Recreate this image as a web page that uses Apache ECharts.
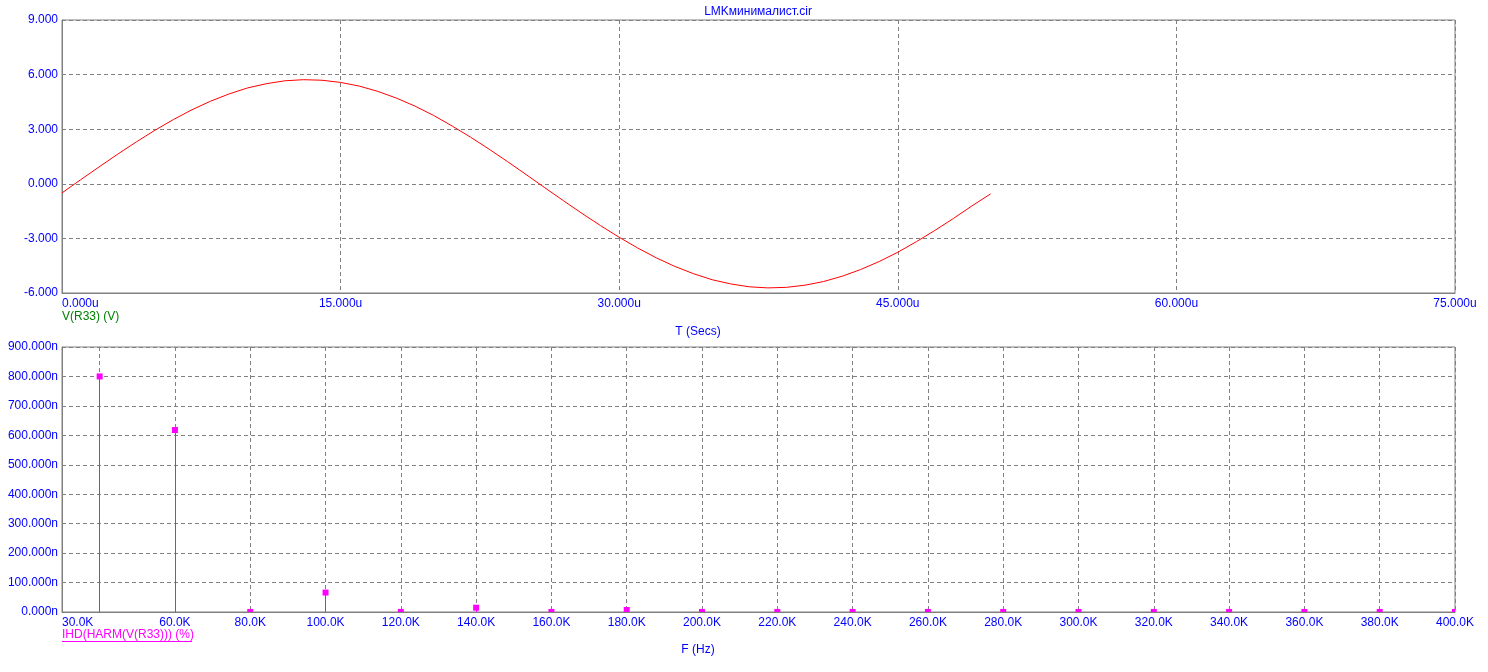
<!DOCTYPE html>
<html><head><meta charset="utf-8">
<script src="https://cdn.jsdelivr.net/npm/echarts@6/dist/echarts.min.js"></script>
<style>html,body{margin:0;padding:0;background:#fff}#c{width:1488px;height:672px}</style>
</head><body><div id="c"></div>
<script>
// ---- Data ----
const timeUs = [0,1,2,3,4,5,6,7,8,9,10,11,12,13,14,15,16,17,18,19,20,21,22,23,24,25,26,27,28,29,30,31,32,33,34,35,36,37,38,39,40,41,42,43,44,45,46,47,48,49,50];
const voltage = [-0.50,0.22,0.93,1.63,2.30,2.94,3.53,4.07,4.54,4.94,5.27,5.50,5.66,5.72,5.69,5.57,5.37,5.08,4.71,4.27,3.76,3.18,2.56,1.90,1.21,0.50,-0.22,-0.93,-1.63,-2.30,-2.94,-3.53,-4.07,-4.54,-4.94,-5.27,-5.50,-5.66,-5.72,-5.69,-5.57,-5.37,-5.08,-4.71,-4.27,-3.76,-3.18,-2.56,-1.90,-1.21,-0.55];
const harmFreqHz = [40000,60000,80000,100000,120000,140000,160000,180000,200000,220000,240000,260000,280000,300000,320000,340000,360000,380000,400000];
const harmIhd = [800,618,0.3,66,0.3,14.6,0.3,6.8,0.2,0.2,0.2,0.2,0.2,0.2,0.2,0.2,0.2,0.2,0.2];
const freqLabelValues = [30000,60000,80000,100000,120000,140000,160000,180000,200000,220000,240000,260000,280000,300000,320000,340000,360000,380000,400000];
const freqGridValues = [40000,60000,80000,100000,120000,140000,160000,180000,200000,220000,240000,260000,280000,300000,320000,340000,360000,380000,400000];

const BLUE = '#0000ff', GRAY = '#808080', FONT = '"Liberation Sans", Arial, sans-serif';
const chart = echarts.init(document.getElementById('c'), null, {renderer: 'canvas'});
const splitStyle = {show: true, lineStyle: {color: GRAY, width: 1, type: [4, 3]}};
const lab = {color: BLUE, fontFamily: FONT, fontSize: 12};
const axLine = {show: true, onZero: false, lineStyle: {color: GRAY}};

// same half-pixel snapping ECharts uses for 1px split lines
function snap(pos) {
  const d = Math.round(pos * 2);
  return (d + 1) % 2 === 0 ? d / 2 : (d + 1) / 2;
}

chart.setOption({
  animation: false,
  backgroundColor: '#fff',
  grid: [
    {left: 62, right: 33, top: 20, height: 273, show: true, borderColor: GRAY, borderWidth: 1, containLabel: false},
    {left: 62, right: 33, top: 347, height: 265, show: true, borderColor: GRAY, borderWidth: 1, containLabel: false}
  ],
  xAxis: [
    {type: 'value', gridIndex: 0, min: 0, max: 75, interval: 15,
     axisLine: axLine, axisTick: {show: false},
     splitLine: splitStyle,
     axisLabel: Object.assign({margin: 5, alignMinLabel: 'left', formatter: v => v.toFixed(3) + 'u'}, lab)},
    {type: 'value', gridIndex: 1, min: 30000, max: 400000,
     axisLine: axLine,
     axisTick: {show: false, customValues: freqGridValues},
     splitLine: splitStyle,
     axisLabel: Object.assign({margin: 5, alignMinLabel: 'left', customValues: freqLabelValues,
       formatter: v => (v / 1000).toFixed(1) + 'K'}, lab)}
  ],
  yAxis: [
    {type: 'value', gridIndex: 0, min: -6, max: 9, interval: 3,
     axisLine: axLine, axisTick: {show: false},
     splitLine: splitStyle,
     axisLabel: Object.assign({margin: 4, formatter: v => v.toFixed(3)}, lab)},
    {type: 'value', gridIndex: 1, min: 0, max: 900, interval: 100,
     axisLine: axLine, axisTick: {show: false},
     splitLine: splitStyle,
     axisLabel: Object.assign({margin: 4, formatter: v => v.toFixed(3) + 'n'}, lab)}
  ],
  series: [
    {type: 'line', xAxisIndex: 0, yAxisIndex: 0, smooth: false, symbol: 'none', zlevel: 1, z: 5,
     lineStyle: {color: '#ff0000', width: 1},
     data: timeUs.map((t, i) => [t, voltage[i]])},
    {type: 'custom', xAxisIndex: 1, yAxisIndex: 1, clip: true, zlevel: 1, z: 5,
     data: harmFreqHz.map((f, i) => [f, harmIhd[i]]),
     renderItem: function (params, api) {
       const p = api.coord([api.value(0), api.value(1)]);
       const b = api.coord([api.value(0), 0]);
       const cs = params.coordSys;
       const area = {x: cs.x, y: cs.y, width: cs.width, height: cs.height};
       const rect = echarts.graphic.clipRectByRect({x: p[0] - 3, y: p[1] - 3, width: 6, height: 6}, area);
       const sx = snap(p[0]);
       const children = [{type: 'rect', shape: {x: sx - 0.5, y: p[1], width: 1, height: Math.max(0, b[1] - p[1])},
         style: {fill: '#ff00ff', stroke: null}}];
       if (rect) children.push({type: 'rect', shape: rect, style: {fill: '#ff00ff', stroke: null}});
       return {type: 'group', children: children};
     }}
  ],
  graphic: [
    {type: 'text', style: {text: 'LMKминималист.cir', x: 758, y: 12, align: 'center', verticalAlign: 'middle', fill: BLUE, font: '12px ' + FONT}},
    {type: 'text', style: {text: 'V(R33) (V)', x: 62, y: 317, align: 'left', verticalAlign: 'middle', fill: '#008000', font: '12px ' + FONT}},
    {type: 'text', style: {text: 'T (Secs)', x: 698, y: 332, align: 'center', verticalAlign: 'middle', fill: BLUE, font: '12px ' + FONT}},
    {type: 'text', style: {text: 'IHD(HARM(V(R33))) (%)', x: 62, y: 635, align: 'left', verticalAlign: 'middle', fill: '#ff00ff', font: '12px ' + FONT}},
    {type: 'line', shape: {x1: 62, y1: 641.5, x2: 192, y2: 641.5}, style: {stroke: '#ff00ff', lineWidth: 1}},
    {type: 'text', style: {text: 'F (Hz)', x: 698, y: 650, align: 'center', verticalAlign: 'middle', fill: BLUE, font: '12px ' + FONT}}
  ]
});
</script></body></html>
